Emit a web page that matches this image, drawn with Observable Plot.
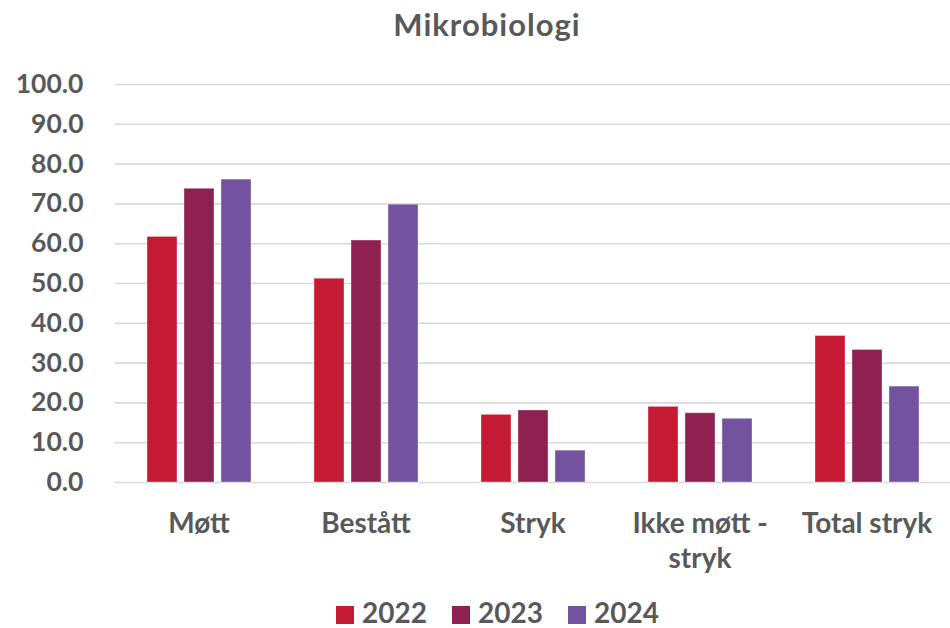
<!DOCTYPE html>
<html>
<head>
<meta charset="utf-8">
<script src="https://cdn.jsdelivr.net/npm/d3@7"></script>
<script src="https://cdn.jsdelivr.net/npm/@observablehq/plot@0.6"></script>
<style>
  body { margin: 0; background: #fff; font-family: Lato, "Open Sans", sans-serif; color: #595959; }
  #wrap { width: 950px; height: 628px; position: relative; overflow: hidden; }
  #title { height: 60px; box-sizing: border-box; padding-top: 5px; padding-left: 24px; text-align: center; font-size: 31px; letter-spacing: 1px; font-weight: 700; line-height: normal; }
  #chart svg { display: block; }
  #legend { height: 40px; box-sizing: border-box; padding-top: 7px; padding-left: 336px; font-size: 28px; font-weight: 700; line-height: normal; white-space: nowrap; }
  .item { display: inline-block; margin-right: 25px; }
  .sw { display: inline-block; width: 18px; height: 18px; margin-right: 8px; vertical-align: -1px; }
</style>
</head>
<body>
<div id="wrap">
  <div id="title">Mikrobiologi</div>
  <div id="chart"></div>
  <div id="legend"></div>
</div>
<script>
const categories = ["Møtt", "Bestått", "Stryk", "Ikke møtt-stryk", "Total stryk"];
const tickLabels = ["Møtt", "Bestått", "Stryk", "Ikke møtt -\nstryk", "Total stryk"];
const years = ["2022", "2023", "2024"];
const values2022 = [61.7, 51.2, 17.0, 19.0, 36.8];
const values2023 = [73.8, 60.8, 18.1, 17.4, 33.3];
const values2024 = [76.1, 69.8, 8.0, 16.0, 24.1];
const yTicks = [0, 10, 20, 30, 40, 50, 60, 70, 80, 90, 100];
const colors = ["#C41A33", "#8F2150", "#7352A0"];

const series = [values2022, values2023, values2024];
const data = [];
categories.forEach((c, i) => {
  years.forEach((y, j) => data.push({cat: c, year: y, value: series[j][i]}));
});

const chart = Plot.plot({
  width: 950,
  height: 528,
  marginTop: 24,
  marginBottom: 106,
  marginLeft: 115,
  marginRight: 0,
  style: {fontFamily: "Lato, 'Open Sans', sans-serif", color: "#595959", fontWeight: "700", fontSize: "26px", background: "transparent"},
  fx: {domain: categories, padding: 0, axis: null},
  x: {domain: years, paddingInner: 0.19, paddingOuter: 0.85, axis: null},
  y: {domain: [0, 100], axis: null},
  color: {domain: years, range: colors},
  marks: [
    Plot.gridY(yTicks, {stroke: "#d9d9d9", strokeOpacity: 1, strokeWidth: 1.6}),
    Plot.axisY(yTicks, {tickSize: 0, tickPadding: 32, tickFormat: d => d.toFixed(1), label: null, fontSize: 26.5, fontWeight: 700, fill: "#595959"}),
    Plot.axisFx({anchor: "bottom", tickSize: 0, tickPadding: 25, tickFormat: d => tickLabels[categories.indexOf(d)], label: null, fontSize: 28, fontWeight: 700, fill: "#595959", lineHeight: 1.26}),
    Plot.barY(data, {fx: "cat", x: "year", y: "value", fill: "year", stroke: "#ffffff", strokeOpacity: 0.35, strokeWidth: 1})
  ]
});
document.getElementById("chart").appendChild(chart);

const legend = document.getElementById("legend");
years.forEach((y, j) => {
  const item = document.createElement("span");
  item.className = "item";
  const sw = document.createElement("span");
  sw.className = "sw";
  sw.style.background = colors[j];
  item.appendChild(sw);
  item.appendChild(document.createTextNode(y));
  legend.appendChild(item);
});
</script>
</body>
</html>
